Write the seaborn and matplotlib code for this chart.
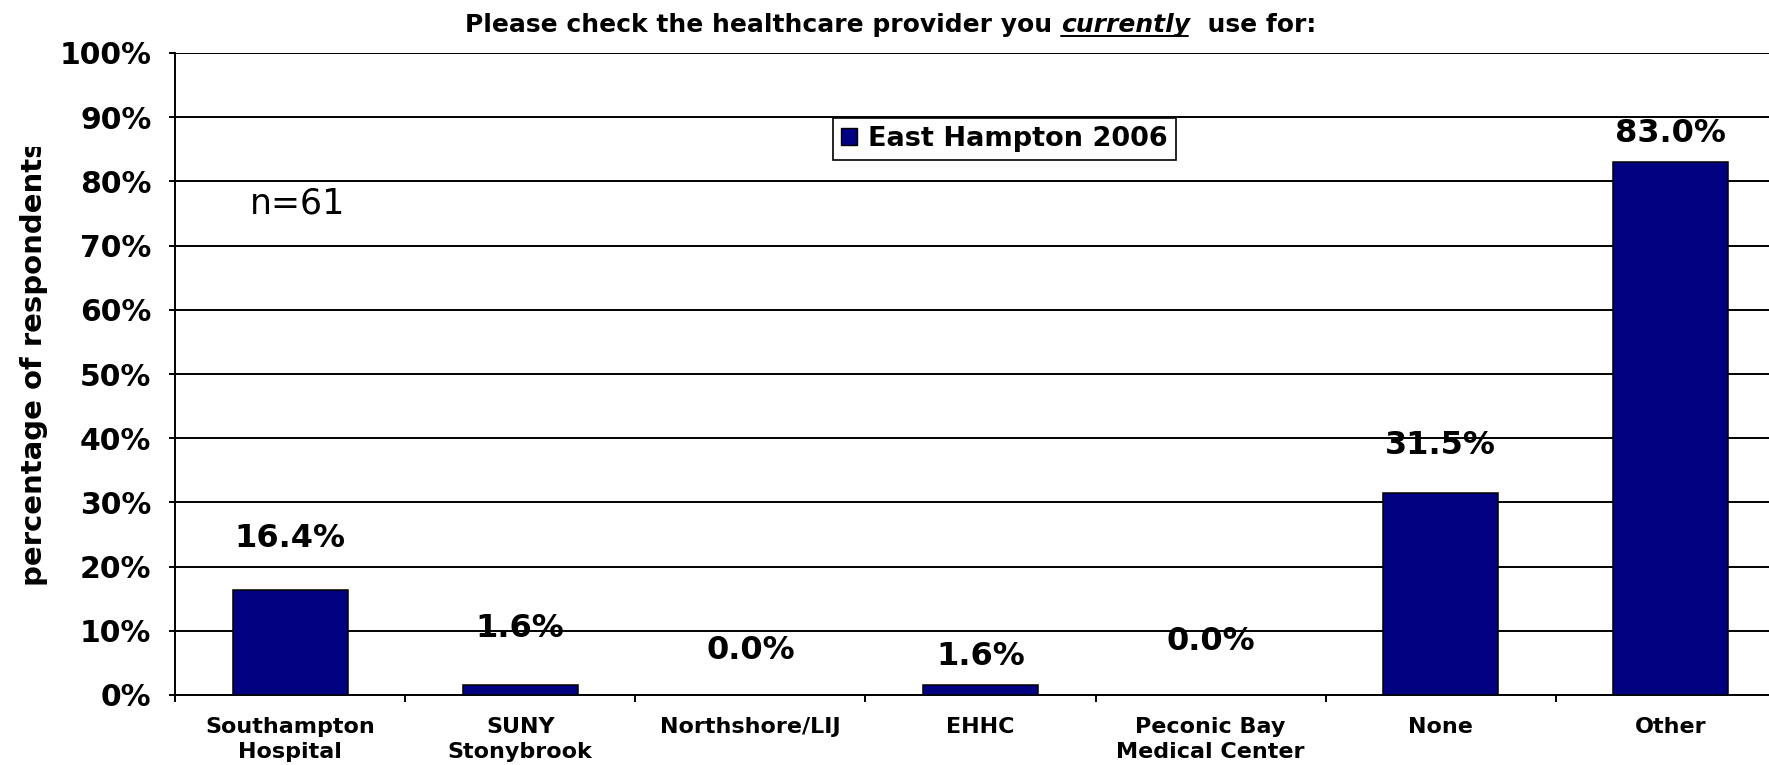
import numpy as np
import pandas as pd
import matplotlib
matplotlib.use("Agg")
import matplotlib.pyplot as plt
import seaborn as sns
from matplotlib.patches import Patch
from matplotlib.transforms import Bbox

# ---- data ----
categories = ["Southampton\nHospital", "SUNY\nStonybrook", "Northshore/LIJ", "EHHC",
              "Peconic Bay\nMedical Center", "None", "Other"]
values = [16.4, 1.6, 0.0, 1.6, 0.0, 31.5, 83.0]
value_labels = ["16.4%", "1.6%", "0.0%", "1.6%", "0.0%", "31.5%", "83.0%"]
series_name = "East Hampton 2006"
y_ticks = [0, 10, 20, 30, 40, 50, 60, 70, 80, 90, 100]
y_tick_labels = [f"{t}%" for t in y_ticks]

# label placement above each bar (the original has them a bit uneven)
label_offsets = [7.9, 8.8, 7.0, 4.4, 8.3, 7.4, 4.4]

sns.set_theme(style="ticks")
plt.rcParams["font.family"] = ["DejaVu Sans"]
plt.rcParams["text.color"] = "black"
plt.rcParams["xtick.color"] = "black"
plt.rcParams["ytick.color"] = "black"
plt.rcParams["axes.labelcolor"] = "black"

W, H = 1769, 765
fig = plt.figure(figsize=(W / 100, H / 100), dpi=100)
# axes runs off the right edge, like the original screenshot
ax = fig.add_axes([175 / W, 70 / H, 1611 / W, 642 / H])

df = pd.DataFrame({"provider": categories, "pct": values})
sns.barplot(data=df, x="provider", y="pct", color="#000080", saturation=1,
            width=0.5, edgecolor="black", linewidth=1.1, ax=ax, zorder=3)

ax.set_xlim(-0.5, 6.5)
ax.set_ylim(0, 100)
ax.set_yticks(y_ticks)
ax.set_yticklabels(y_tick_labels, fontsize=21.5, fontweight="bold")
ax.set_xticks(range(len(categories)))
ax.set_xticklabels(categories, fontsize=16, fontweight="bold", linespacing=1.3)
ax.set_xticks(np.arange(-0.5, 7, 1), minor=True)
ax.set_xlabel("")
ax.set_ylabel("")

ax.yaxis.grid(True, color="black", linewidth=1.4)
ax.set_axisbelow(True)
for s in ["top", "right"]:
    ax.spines[s].set_visible(False)
for s in ["left", "bottom"]:
    ax.spines[s].set_color("black")
    ax.spines[s].set_linewidth(1.4)

ax.tick_params(axis="y", which="major", left=True, length=4, width=1.4, color="black", pad=13)
ax.tick_params(axis="x", which="major", bottom=True, length=0, pad=16)
ax.tick_params(axis="x", which="minor", bottom=True, length=5, width=1.4, color="black")

# value labels
for i, (v, lab, off) in enumerate(zip(values, value_labels, label_offsets)):
    ax.text(i, v + off, lab, ha="center", va="center", fontsize=23, fontweight="bold")

# legend
handle = Patch(facecolor="#000080", edgecolor="black", label=series_name)
leg = fig.legend(handles=[handle], loc="upper left", bbox_to_anchor=(833 / W, 1 - 118 / H),
                 frameon=True, fancybox=False, framealpha=1, edgecolor="black",
                 prop={"size": 19.5, "weight": "bold"}, handlelength=0.6, handleheight=0.6,
                 handletextpad=0.4, borderpad=0.3, borderaxespad=0)
leg.get_frame().set_linewidth(1.2)

# n=61
fig.text(250 / W, 1 - 203 / H, "n=61", fontsize=25, ha="left", va="center")

# y label, clipped at the top like the original
ylab = fig.text(34 / W, 1 - 363 / H, "percentage of respondents", rotation=90,
                ha="center", va="center", fontsize=21, fontweight="bold")
ylab.set_clip_box(Bbox.from_extents(0, 0, W, H - 147))
ylab.set_clip_on(True)

# title with italic underlined word
parts = [("Please check the healthcare provider you ", "normal"),
         ("currently", "italic"),
         ("  use for:", "normal")]
ty = 1 - 25 / H
tparts = [fig.text(0, ty, s, fontsize=18, fontweight="bold", style=st, ha="left", va="center")
          for s, st in parts]
fig.canvas.draw()
r = fig.canvas.get_renderer()
widths = [t.get_window_extent(r).width for t in tparts]
x = 891 - sum(widths) / 2
for t, w in zip(tparts, widths):
    t.set_x(x / W)
    x += w
fig.canvas.draw()
bb = tparts[1].get_window_extent(r)
uy = (bb.y0 + 1) / H
fig.add_artist(plt.Line2D([bb.x0 / W, (bb.x1 - 2) / W], [uy, uy], color="black", linewidth=1.4))

fig.savefig("out.png", dpi=100)
